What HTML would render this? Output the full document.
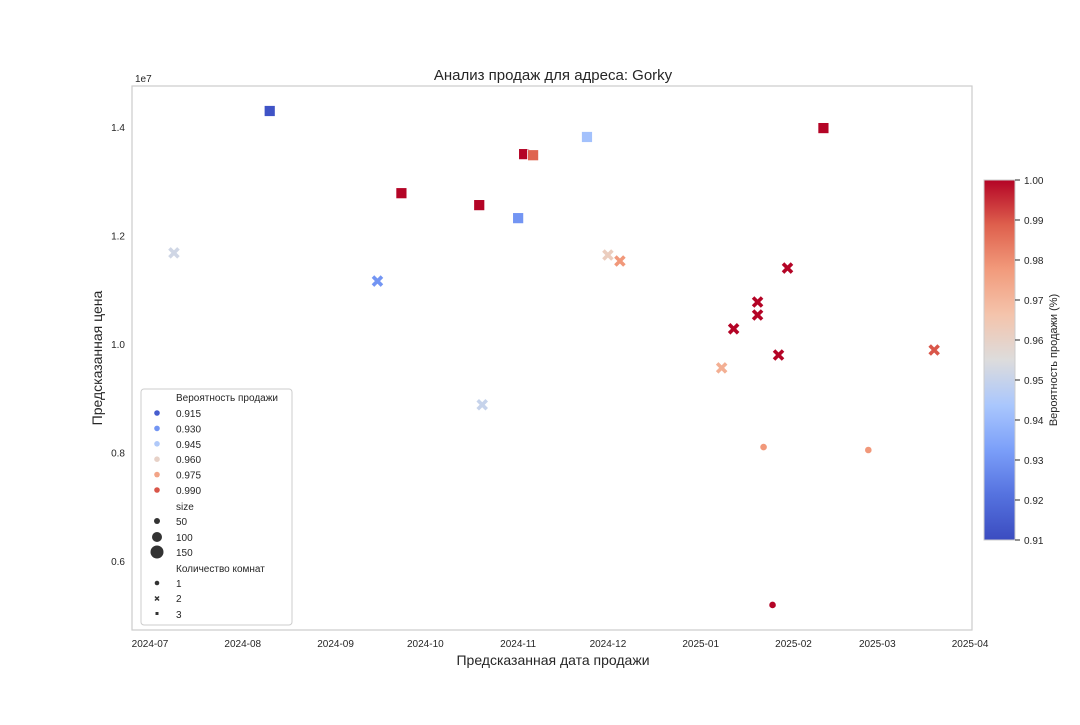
<!DOCTYPE html>
<html><head><meta charset="utf-8"><style>
body{margin:0;background:#fff;font-family:"Liberation Sans","DejaVu Sans",sans-serif}
</style></head><body>
<svg id="chart" width="1080" height="720" xmlns="http://www.w3.org/2000/svg">
<defs>
<linearGradient id="cw" x1="0" y1="1" x2="0" y2="0">
<stop offset="0" stop-color="#3b4cc0"/><stop offset="0.125" stop-color="#5572df"/>
<stop offset="0.25" stop-color="#7b9ff9"/><stop offset="0.375" stop-color="#aac7fd"/>
<stop offset="0.5" stop-color="#dddcdc"/><stop offset="0.625" stop-color="#f4c4ac"/>
<stop offset="0.75" stop-color="#f29b7c"/><stop offset="0.875" stop-color="#de604d"/>
<stop offset="1" stop-color="#b40426"/>
</linearGradient>
</defs>
<text x="553" y="80" text-anchor="middle" font-size="15" fill="#262626">Анализ продаж для адреса: Gorky</text>
<rect x="132" y="86" width="840" height="544" fill="none" stroke="#cccccc" stroke-width="1.2"/>
<text x="135" y="82" font-size="10" fill="#262626">1e7</text>
<g id="yt"></g><g id="xt"></g><g id="pts"></g>
<text x="553" y="665" text-anchor="middle" font-size="14" fill="#262626">Предсказанная дата продажи</text>
<text transform="translate(102,358) rotate(-90)" text-anchor="middle" font-size="14" fill="#262626">Предсказанная цена</text>
<g>
<rect x="141" y="389" width="151" height="236" rx="3" fill="#fff" stroke="#cccccc"/>
<g font-size="10" fill="#262626" id="leg"></g>
</g>
<g>
<rect x="984" y="180" width="31" height="360" fill="url(#cw)" stroke="#cccccc"/>
<g id="cbt"></g>
<text transform="translate(1057,360) rotate(-90)" text-anchor="middle" font-size="11" fill="#262626">Вероятность продажи (%)</text>
</g>
</svg>
<script>
const dates=["2024-08-10","2024-09-23","2024-10-19","2024-11-01","2024-11-03","2024-11-06","2024-11-24","2025-02-11",
"2024-07-09","2024-09-15","2024-10-20","2024-12-01","2024-12-05","2025-01-08","2025-01-12","2025-01-20","2025-01-20","2025-01-27","2025-01-30","2025-03-20",
"2025-01-22","2025-02-26","2025-01-25"];
const prices=[1.4295,1.278,1.256,1.232,1.350,1.348,1.3816,1.398,
1.168,1.116,0.888,1.164,1.153,0.956,1.028,1.0774,1.0535,0.9797,1.140,0.989,
0.810,0.8046,0.519];
const probs=[0.912,1.0,1.0,0.930,1.0,0.988,0.942,1.0,
0.952,0.930,0.950,0.962,0.978,0.972,1.0,1.0,1.0,1.0,1.0,0.990,
0.978,0.978,1.0];
const rooms=[3,3,3,3,3,3,3,3, 2,2,2,2,2,2,2,2,2,2,2,2, 1,1,1];
const yTicks=[0.6,0.8,1.0,1.2,1.4];
const xTicks=["2024-07","2024-08","2024-09","2024-10","2024-11","2024-12","2025-01","2025-02","2025-03","2025-04"];
const cbTicks=[0.91,0.92,0.93,0.94,0.95,0.96,0.97,0.98,0.99,1.00];
const legProbs=[0.915,0.930,0.945,0.960,0.975,0.990];

const NS="http://www.w3.org/2000/svg";
const D0=Date.UTC(2024,6,1);
function dayOf(s){const p=s.split("-").map(Number);return (Date.UTC(p[0],p[1]-1,p[2]||1)-D0)/86400000;}
function X(s){return 150+dayOf(s)*2.993;}
function Y(v){return 344-(v-1.0)*542.5;}
function CB(v){return 540-(v-0.91)/0.09*360;}
const stops=[[58,76,192],[85,114,223],[123,159,249],[170,199,253],[221,220,220],[244,196,172],[242,155,124],[222,96,77],[180,4,38]];
function col(p){let t=Math.max(0,Math.min(1,(p-0.91)/0.09))*8;let i=Math.min(7,Math.floor(t)),f=t-i;
const a=stops[i],b=stops[i+1];return "rgb("+a.map((v,k)=>Math.round(v+(b[k]-v)*f)).join(",")+")";}
function mk(tag,attrs,parent){const e=document.createElementNS(NS,tag);for(const k in attrs)e.setAttribute(k,attrs[k]);parent.appendChild(e);return e;}

const yt=document.getElementById("yt");
yTicks.forEach(v=>{const t=mk("text",{x:125,y:Y(v)+4,"text-anchor":"end","font-size":"10",fill:"#262626"},yt);t.textContent=v.toFixed(1);

});
const xt=document.getElementById("xt");
xTicks.forEach(s=>{const t=mk("text",{x:X(s),y:647,"text-anchor":"middle","font-size":"10",fill:"#262626"},xt);t.textContent=s;

});

const g=document.getElementById("pts");
dates.forEach((d,i)=>{const x=X(d),y=Y(prices[i]),c=col(probs[i]);let e;
if(rooms[i]===3){e=mk("rect",{x:x-5.5,y:y-5.5,width:11,height:11,fill:c,stroke:"#fff","stroke-width":"0.8"},g);}
else if(rooms[i]===2){const r=4.5;e=mk("path",{d:`M${x-r},${y-r}L${x+r},${y+r}M${x-r},${y+r}L${x+r},${y-r}`,stroke:c,"stroke-width":"3.6",fill:"none"},g);}
else{e=mk("circle",{cx:x,cy:y,r:3.7,fill:c,stroke:"#fff","stroke-width":"0.8"},g);}

});

const leg=document.getElementById("leg");
function lt(x,y,s){const t=mk("text",{x:x,y:y},leg);t.textContent=s;

}
lt(176,401,"Вероятность продажи");
legProbs.forEach((p,i)=>{const y=413+i*15.4;const c=mk("circle",{cx:157,cy:y,r:2.8,fill:col(p)},leg);


lt(176,y+4,p.toFixed(3));});
lt(176,510,"size");
[[50,521,3],[100,537,5],[150,552,6.5]].forEach(a=>{const c=mk("circle",{cx:157,cy:a[1],r:a[2],fill:"#333"},leg);


lt(176,a[1]+4,String(a[0]));});
lt(176,572,"Количество комнат");
const c1=mk("circle",{cx:157,cy:583,r:2.3,fill:"#333"},leg);


lt(176,587,"1");
const c2=mk("path",{d:"M155,596.5L159,600.5M155,600.5L159,596.5",stroke:"#333","stroke-width":"1.5"},leg);


lt(176,602,"2");
const c3=mk("rect",{x:155.5,y:612,width:3,height:3,fill:"#333"},leg);


lt(176,618,"3");

const cbt=document.getElementById("cbt");
cbTicks.forEach(v=>{const y=CB(v);const l=mk("line",{x1:1015,x2:1020,y1:y,y2:y,stroke:"#262626","stroke-width":"1"},cbt);


const t=mk("text",{x:1024,y:y+4,"font-size":"10",fill:"#262626"},cbt);t.textContent=v.toFixed(2);

});
</script>
</body></html>
